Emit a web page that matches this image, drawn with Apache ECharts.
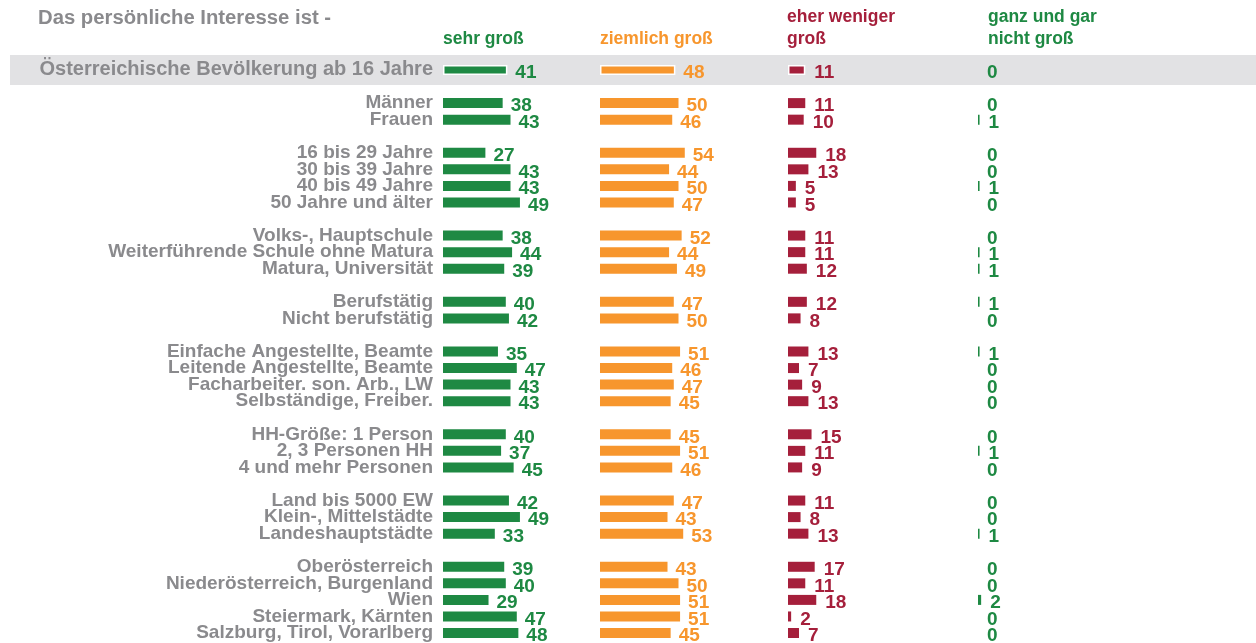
<!DOCTYPE html>
<html><head><meta charset="utf-8">
<script src="https://cdn.jsdelivr.net/npm/echarts@6/dist/echarts.min.js"></script>
<style>html,body{margin:0;padding:0;background:#fff}#c{width:1256px;height:643px}</style>
</head><body><div id="c"></div><script>
const groups = [
 ['Österreichische Bevölkerung ab 16 Jahre'],
 ['Männer','Frauen'],
 ['16 bis 29 Jahre','30 bis 39 Jahre','40 bis 49 Jahre','50 Jahre und älter'],
 ['Volks-, Hauptschule','Weiterführende Schule ohne Matura','Matura, Universität'],
 ['Berufstätig','Nicht berufstätig'],
 ['Einfache Angestellte, Beamte','Leitende Angestellte, Beamte','Facharbeiter. son. Arb., LW','Selbständige, Freiber.'],
 ['HH-Größe: 1 Person','2, 3 Personen HH','4 und mehr Personen'],
 ['Land bis 5000 EW','Klein-, Mittelstädte','Landeshauptstädte'],
 ['Oberösterreich','Niederösterreich, Burgenland','Wien','Steiermark, Kärnten','Salzburg, Tirol, Vorarlberg']
];
const sehrGross     = [41, 38,43, 27,43,43,49, 38,44,39, 40,42, 35,47,43,43, 40,37,45, 42,49,33, 39,40,29,47,48];
const ziemlichGross = [48, 50,46, 54,44,50,47, 52,44,49, 47,50, 51,46,47,45, 45,51,46, 47,43,53, 43,50,51,51,45];
const eherWeniger   = [11, 11,10, 18,13,5,5, 11,11,12, 12,8, 13,7,9,13, 15,11,9, 11,8,13, 17,11,18,2,7];
const garNicht      = [0, 0,1, 0,0,1,0, 0,1,1, 1,0, 1,0,0,0, 0,1,0, 0,0,1, 0,0,2,0,0];
const seriesNames = ['sehr groß','ziemlich groß','eher weniger groß','ganz und gar nicht groß'];
const colors = ['#1e8943','#f7962d','#a51f3b','#1e8943'];

// build slots with blank gap rows between groups
const slots = [];
let gapN = 0;
groups.forEach((g, gi) => {
  if (gi > 0) { gapN++; slots.push(' '.repeat(gapN)); }
  g.forEach(name => slots.push(name));
});
const rowIndex = [];
{ let d = 0; slots.forEach(s => { rowIndex.push(s.trim() === '' ? null : d++); }); }

const allData = [sehrGross, ziemlichGross, eherWeniger, garNicht];
const lefts = [443, 600, 788, 978];
const dists = [8, 8, 9, 9];
const PX = 1.57;
const TOP = 61.7, SLOT = 16.56;
const FONT = 'Liberation Sans, Arial, sans-serif';
const grey = '#8a8a8d';

const grids = [], xAxes = [], yAxes = [], series = [];
allData.forEach((arr, k) => {
  grids.push({left: lefts[k], top: TOP, height: SLOT * slots.length, width: 100 * PX});
  xAxes.push({type: 'value', gridIndex: k, min: 0, max: 100, show: false});
  yAxes.push({
    type: 'category', gridIndex: k, inverse: true, data: slots,
    axisLine: {show: false}, axisTick: {show: false}, splitLine: {show: false},
    axisLabel: k === 0 ? {
      show: true, interval: 0, margin: 10, color: grey, fontFamily: FONT, fontWeight: 'bold', fontSize: 19,
      formatter: (v, i) => i === 0 ? '{t|' + v + '}' : v,
      rich: {t: {fontSize: 20, fontWeight: 'bold', color: grey, fontFamily: FONT}}
    } : {show: false}
  });
  series.push({
    name: seriesNames[k], type: 'bar', xAxisIndex: k, yAxisIndex: k, barWidth: 10,
    itemStyle: {color: colors[k]},
    label: {show: true, position: 'right', distance: dists[k], offset: [0, 3],
      color: colors[k], fontFamily: FONT, fontWeight: 'bold', fontSize: 19},
    data: rowIndex.map(d => d === null ? '-' :
      ((d === 0 && arr[d] > 0) ? {value: arr[d], itemStyle: {borderColor: '#fff', borderWidth: 1.5}} : arr[d])),
    animation: false
  });
});

const hdr = (x, y, text, color) => ({type: 'text', left: x, top: y, z: 10,
  style: {text, fill: color, font: 'bold 17.5px ' + FONT}});

const chart = echarts.init(document.getElementById('c'), null, {renderer: 'canvas'});
chart.setOption({
  animation: false,
  grid: grids, xAxis: xAxes, yAxis: yAxes, series,
  graphic: [
    {type: 'text', left: 38, top: 8, style: {text: 'Das persönliche Interesse ist -', fill: grey, font: 'bold 20.3px ' + FONT}},
    hdr(443, 30, 'sehr groß', colors[0]),
    hdr(600, 30, 'ziemlich groß', colors[1]),
    hdr(787, 8, 'eher weniger', colors[2]),
    hdr(787, 30, 'groß', colors[2]),
    hdr(988, 8, 'ganz und gar', colors[3]),
    hdr(988, 30, 'nicht groß', colors[3])
  ]
});
const yc = chart.convertToPixel({yAxisIndex: 0}, 0);
chart.setOption({graphic: [{type: 'rect', id: 'band', z: -10, shape: {x: 10, y: yc - 15, width: 1246, height: 30}, style: {fill: '#e2e2e4'}}]});
</script></body></html>
